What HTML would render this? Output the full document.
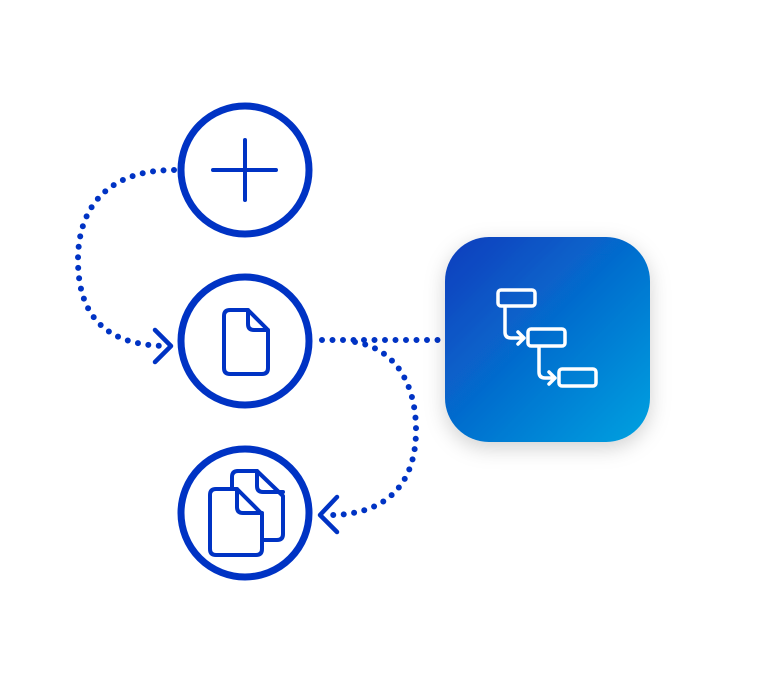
<!DOCTYPE html>
<html><head><style>html,body{margin:0;padding:0;background:#fff}</style></head>
<body>
<svg width="768" height="683" viewBox="0 0 768 683" xmlns="http://www.w3.org/2000/svg">
<defs>
<linearGradient id="g" x1="0" y1="0" x2="1" y2="1">
<stop offset="0" stop-color="#0b3cbd"/><stop offset="1" stop-color="#00a2e0"/>
</linearGradient>
<filter id="sh" x="-30%" y="-30%" width="160%" height="160%"><feDropShadow dx="0" dy="6" stdDeviation="10" flood-color="#000" flood-opacity="0.18"/></filter>
</defs>
<g fill="none" stroke="#0033c4" stroke-width="6" stroke-linecap="round" stroke-dasharray="0 10.5">
<path d="M174 170 C 110 170, 78 205, 78 260 C 78 320, 110 346, 168 346"/>
<path d="M322 340 L 445 340"/>
<path d="M355 342 C 400 350, 416 390, 416 430 C 416 490, 380 515, 330 515"/>
</g>
<g fill="none" stroke="#0033c4" stroke-width="4.5" stroke-linecap="round" stroke-linejoin="round">
<path d="M155 330 L171 346 L155 362"/>
<path d="M337 497 L320 515 L337 532"/>
</g>
<g fill="#fff" stroke="#0033c4" stroke-width="7">
<circle cx="245" cy="170" r="64"/>
<circle cx="245" cy="341" r="64"/>
<circle cx="245" cy="513" r="64"/>
</g>
<g fill="none" stroke="#0033c4" stroke-width="4" stroke-linecap="round" stroke-linejoin="round">
<path d="M245 140 V200 M213 170 H276"/>
<path d="M230 310 H248 L268 330 V368 Q268 374 262 374 H230 Q224 374 224 368 V316 Q224 310 230 310 Z M248 310 V324 Q248 330 254 330 H268"/>
<path d="M238 471 H257 L283 496 V534 Q283 540 277 540 H263"/>
<path d="M257 471 V486 Q257 492 263 492 H283"/>
<path d="M216 489 H237 L262 514 V549 Q262 555 256 555 H216 Q210 555 210 549 V495 Q210 489 216 489 Z M237 489 V507 Q237 513 243 513 H262"/>
<path d="M232 489 V477 Q232 471 238 471"/>
</g>
<rect x="445" y="237" width="205" height="205" rx="44" fill="url(#g)" filter="url(#sh)"/>
<g fill="none" stroke="#fff" stroke-width="3.5" stroke-linecap="round" stroke-linejoin="round">
<rect x="498" y="290" width="37" height="16" rx="3"/>
<rect x="528" y="329" width="37" height="17" rx="3"/>
<rect x="559" y="369" width="37" height="17" rx="3"/>
<path d="M505 307 V332 Q505 338 511 338 H524 M518 332 L524 338 L518 344"/>
<path d="M539 347 V372 Q539 378 545 378 H555 M549 372 L555 378 L549 384"/>
</g>
</svg>
</body></html>
